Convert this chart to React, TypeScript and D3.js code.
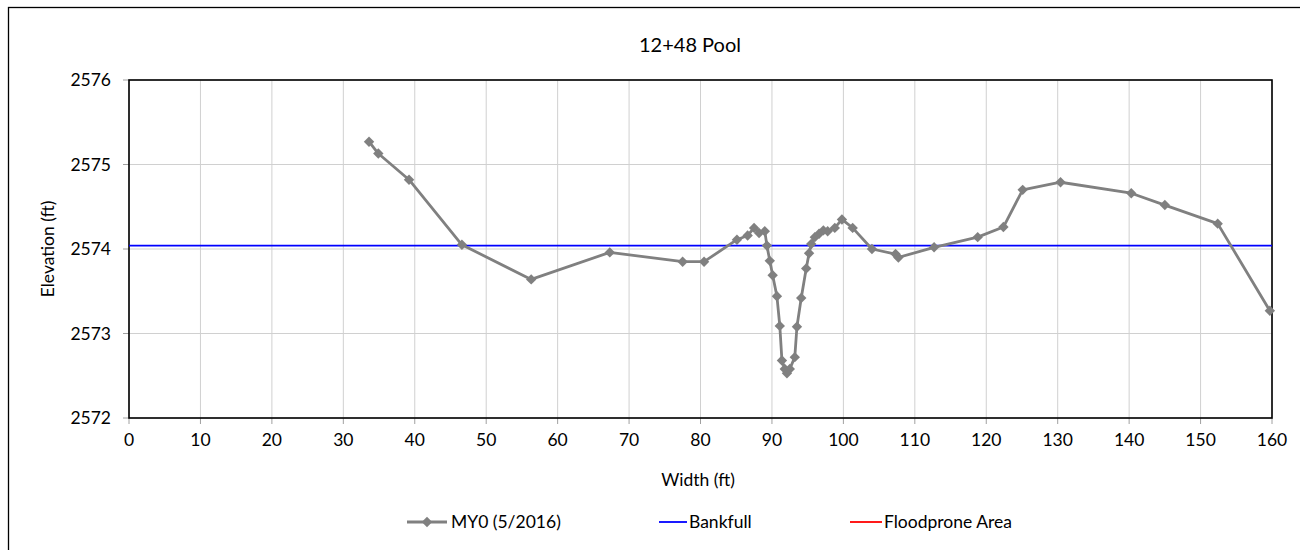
import React from "react";
import * as d3 from "d3";

const stationX: number[] = [
  33.6, 34.9, 39.2, 46.6, 56.3, 67.3, 77.5, 80.5, 85.1, 86.6, 87.5, 88.2, 89.0, 89.3, 89.7,
  90.1, 90.7, 91.1, 91.4, 91.8, 92.1, 92.5, 93.2, 93.5, 94.1, 94.8, 95.2, 95.5, 96.0, 96.6,
  97.2, 97.8, 98.8, 99.8, 101.3, 104.0, 107.3, 107.7, 112.7, 118.8, 122.4, 125.1, 130.4,
  140.3, 145.0, 152.4, 159.7,
];
const elevationY: number[] = [
  2575.27, 2575.13, 2574.82, 2574.05, 2573.64, 2573.96, 2573.85, 2573.85, 2574.11, 2574.16,
  2574.25, 2574.19, 2574.21, 2574.04, 2573.86, 2573.69, 2573.44, 2573.09, 2572.68, 2572.58,
  2572.53, 2572.58, 2572.72, 2573.08, 2573.42, 2573.77, 2573.95, 2574.06, 2574.14, 2574.18,
  2574.22, 2574.21, 2574.25, 2574.35, 2574.25, 2574.00, 2573.94, 2573.90, 2574.02, 2574.14,
  2574.26, 2574.70, 2574.79, 2574.66, 2574.52, 2574.30, 2573.27,
];
const bankfullElevation = 2574.04;
const xTicks: number[] = d3.range(0, 161, 10);
const yTicks: number[] = [2572, 2573, 2574, 2575, 2576];
const legendLabels: string[] = ["MY0 (5/2016)", "Bankfull", "Floodprone Area"];

const W = 1300;
const H = 550;
const L = 129;
const R = 1272;
const T = 80;
const B = 418;
const FONT = "Lato, 'Open Sans', sans-serif";
const FS = 17.5;

export default function App() {
  const x = d3.scaleLinear().domain([0, 160]).range([L, R]);
  const y = d3.scaleLinear().domain([2572, 2576]).range([B, T]);
  const pts: [number, number][] = stationX.map((v, i) => [v, elevationY[i]]);
  const line = d3
    .line<[number, number]>()
    .x((d) => x(d[0]))
    .y((d) => y(d[1]));
  const diamond = (cx: number, cy: number, r = 5.2) =>
    `M${cx},${cy - r}L${cx + r},${cy}L${cx},${cy + r}L${cx - r},${cy}Z`;

  const legY = 522;
  return (
    <svg
      width={W}
      height={H}
      style={{ position: "absolute", left: 0, top: 0, background: "#fff" }}
      fontFamily={FONT}
    >
      <rect x={0} y={0} width={W} height={H} fill="#fff" />
      <rect x={8.5} y={7.5} width={1400} height={700} fill="none" stroke="#000" strokeWidth={1.3} />
      <text x={690} y={52} textAnchor="middle" fontSize={20} fill="#000">
        12+48 Pool
      </text>
      {/* grid */}
      {xTicks.map((t) => (
        <line key={"gx" + t} x1={x(t)} x2={x(t)} y1={T} y2={B} stroke="#d0d0d0" strokeWidth={1} />
      ))}
      {yTicks.map((t) => (
        <line key={"gy" + t} x1={L} x2={R} y1={y(t)} y2={y(t)} stroke="#d0d0d0" strokeWidth={1} />
      ))}
      {/* ticks */}
      {xTicks.map((t) => (
        <line key={"tx" + t} x1={x(t)} x2={x(t)} y1={B} y2={B + 6} stroke="#a0a0a0" strokeWidth={1} />
      ))}
      {yTicks.map((t) => (
        <line key={"ty" + t} x1={L - 6} x2={L} y1={y(t)} y2={y(t)} stroke="#a0a0a0" strokeWidth={1} />
      ))}
      <rect x={L} y={T} width={R - L} height={B - T} fill="none" stroke="#000" strokeWidth={1.6} />
      {xTicks.map((t) => (
        <text key={"lx" + t} x={x(t)} y={B + 28} textAnchor="middle" fontSize={FS} fill="#000">
          {t}
        </text>
      ))}
      {yTicks.map((t) => (
        <text key={"ly" + t} x={L - 18} y={y(t) + 6} textAnchor="end" fontSize={FS} fill="#000">
          {t}
        </text>
      ))}
      <text x={698} y={486} textAnchor="middle" fontSize={FS} fill="#000">
        Width (ft)
      </text>
      <text
        transform={`translate(54,249) rotate(-90)`}
        textAnchor="middle"
        fontSize={FS}
        fill="#000"
      >
        Elevation (ft)
      </text>
      {/* bankfull */}
      <line
        x1={L}
        x2={R}
        y1={y(bankfullElevation)}
        y2={y(bankfullElevation)}
        stroke="#0000ff"
        strokeWidth={1.8}
      />
      {/* series */}
      <path d={line(pts) || ""} fill="none" stroke="#808080" strokeWidth={2.8} strokeLinejoin="round" />
      {pts.map((p, i) => (
        <path key={"m" + i} d={diamond(x(p[0]), y(p[1]))} fill="#808080" />
      ))}
      {/* legend */}
      <line x1={407} x2={447} y1={legY} y2={legY} stroke="#808080" strokeWidth={2.8} />
      <path d={diamond(427, legY)} fill="#808080" />
      <text x={451} y={legY + 6} fontSize={FS} fill="#000">
        {legendLabels[0]}
      </text>
      <line x1={659} x2={687} y1={legY} y2={legY} stroke="#0000ff" strokeWidth={1.8} />
      <text x={689} y={legY + 6} fontSize={FS} fill="#000">
        {legendLabels[1]}
      </text>
      <line x1={850} x2={882} y1={legY} y2={legY} stroke="#ff0000" strokeWidth={1.8} />
      <text x={884} y={legY + 6} fontSize={FS} fill="#000">
        {legendLabels[2]}
      </text>
    </svg>
  );
}
